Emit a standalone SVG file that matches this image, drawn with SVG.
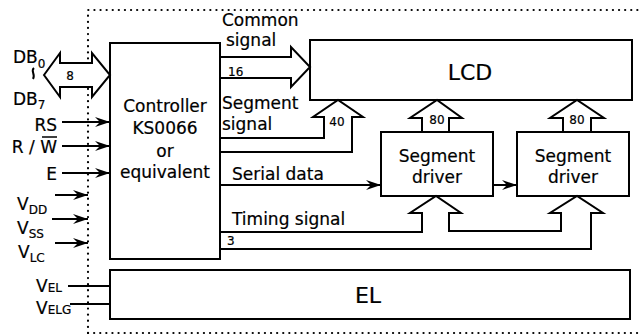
<svg xmlns="http://www.w3.org/2000/svg" width="639" height="335" viewBox="0 0 639 335">
<defs>
<marker id="ah" markerWidth="16" markerHeight="10" refX="15" refY="5" orient="auto" markerUnits="userSpaceOnUse">
<path d="M0,0 L15,5 L0,10 L5,5 Z" fill="#000"/>
</marker>
</defs>
<style>
.b{fill:#fff;stroke:#000;stroke-width:2}
.bus{fill:none;stroke:#000;stroke-width:2;stroke-linejoin:miter}
.ln{fill:none;stroke:#000;stroke-width:2}
.dot{fill:none;stroke:#000;stroke-width:2.2;stroke-dasharray:0.1 6;stroke-linecap:round}
text{font-family:"DejaVu Sans","Liberation Sans",sans-serif;fill:#000;stroke:#000;stroke-width:0.2}
.t{font-size:17px}
.big{font-size:22px}
.s{font-size:12px}
.m{text-anchor:middle}
.e{text-anchor:end}
</style>
<rect width="639" height="335" fill="#fff"/>
<g id="frame">
<path class="dot" d="M88,333 L88,10 L639,10"/>
<path class="dot" d="M88,333 L639,333"/>
</g>
<g id="controller">
<rect class="b" x="110" y="43" width="110" height="216"/>
<text class="t m" x="165" y="112">Controller</text>
<text class="t m" x="165" y="134">KS0066</text>
<text class="t m" x="165" y="157">or</text>
<text class="t m" x="165" y="178">equivalent</text>
</g>
<g id="lcd">
<rect class="b" x="310" y="40" width="322" height="60"/>
<text class="big m" x="470" y="80">LCD</text>
</g>
<g id="driver1">
<rect class="b" x="381" y="132" width="112" height="64"/>
<text class="t m" x="437" y="162">Segment</text>
<text class="t m" x="437" y="183">driver</text>
</g>
<g id="driver2">
<rect class="b" x="517" y="132" width="112" height="64"/>
<text class="t m" x="573" y="162">Segment</text>
<text class="t m" x="573" y="183">driver</text>
</g>
<g id="el">
<rect class="b" x="110" y="270" width="520" height="49"/>
<text class="big m" x="368" y="303">EL</text>
</g>
<g id="connectors">
<path class="b" d="M44,75 L60,53 L60,63 L92,63 L92,53 L110,75 L92,97 L92,87 L60,87 L60,97 Z"/>
<path class="bus" d="M220,57 L291,57 L291,47 L310,67 L291,87 L291,78 L220,78"/>
<path class="bus" d="M220,138 L324,138 L324,117 L313,117 L338,100 L363,117 L352,117 L352,152 L220,152"/>
<path class="bus" d="M422,132 L422,118 L410,118 L437,100 L462,118 L449,118 L449,132"/>
<path class="bus" d="M563,132 L563,118 L550,118 L577,100 L604,118 L591,118 L591,132"/>
<path class="bus" d="M220,232 L422,232 L422,213 L410,213 L436,196 L461,213 L449,213 L449,231 L561,231 L561,213 L550,213 L577,196 L603,213 L591,213 L591,249 L220,249"/>
<line class="ln" x1="220" y1="185" x2="381" y2="185" marker-end="url(#ah)"/>
<line class="ln" x1="493" y1="185" x2="517" y2="185" marker-end="url(#ah)"/>
<line class="ln" x1="62" y1="122" x2="110" y2="122" marker-end="url(#ah)"/>
<line class="ln" x1="62" y1="146" x2="110" y2="146" marker-end="url(#ah)"/>
<line class="ln" x1="62" y1="173" x2="110" y2="173" marker-end="url(#ah)"/>
<line class="ln" x1="55" y1="195" x2="88" y2="195" marker-end="url(#ah)"/>
<line class="ln" x1="52" y1="219" x2="88" y2="219" marker-end="url(#ah)"/>
<line class="ln" x1="55" y1="243" x2="88" y2="243" marker-end="url(#ah)"/>
<line class="ln" x1="68" y1="286" x2="110" y2="286"/>
<line class="ln" x1="70" y1="304" x2="110" y2="304"/>
</g>
<g id="labels">
<text class="s m" x="70" y="80">8</text>
<text class="s" x="228" y="76">16</text>
<text class="s m" x="337" y="126">40</text>
<text class="s m" x="437" y="124">80</text>
<text class="s m" x="577" y="124">80</text>
<text class="s" x="227" y="245">3</text>
<text class="t" x="222" y="26">Common</text>
<text class="t" x="226" y="46">signal</text>
<text class="t" x="222" y="109">Segment</text>
<text class="t" x="222" y="130">signal</text>
<text class="t" x="232" y="180">Serial data</text>
<text class="t" x="232" y="225">Timing signal</text>
<text class="t" x="13" y="63">DB<tspan class="s" dy="5">0</tspan></text>
<path class="ln" d="M34,68 C30,71 36,74 33,79" stroke-width="1.5"/>
<text class="t" x="13" y="105">DB<tspan class="s" dy="4">7</tspan></text>
<text class="t e" x="57" y="131">RS</text>
<text class="t e" x="57" y="153">R / W</text>
<line x1="42" y1="137" x2="57" y2="137" stroke="#000" stroke-width="1.5"/>
<text class="t e" x="57" y="180">E</text>
<text class="t" x="17" y="210">V<tspan class="s" dy="4">DD</tspan></text>
<text class="t" x="17" y="234">V<tspan class="s" dy="4">SS</tspan></text>
<text class="t" x="18" y="258">V<tspan class="s" dy="4">LC</tspan></text>
<text class="t" x="36" y="292">V<tspan class="s">EL</tspan></text>
<text class="t" x="36" y="314">V<tspan class="s">ELG</tspan></text>
</g>
</svg>
